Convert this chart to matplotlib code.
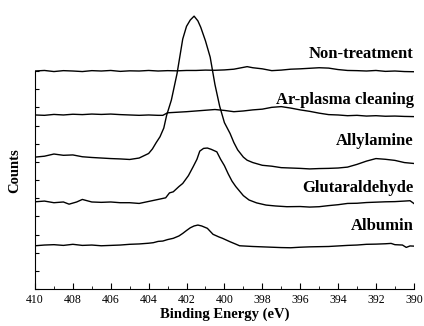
"""
N 1s XPS spectra of the surface after each treatment step,
stacked with a vertical offset.
"""

# Import libraries:
import matplotlib.pyplot as plt

# Sample names (bottom to top) and vertical offsets of each trace:
names = ['Albumin', 'Glutaraldehyde', 'Allylamine', 'Ar-plasma cleaning', 'Non-treatment']
offsets = [2.42, 4.84, 7.26, 9.58, 12.0]
label_y = [3.47, 5.56, 8.15, 10.4, 12.93]

# Albumin:
E_alb = [410, 409.5, 409, 408.5, 408, 407.5, 407, 406.5, 406, 405.5, 405, 404.5, 404,
         403.75, 403.5, 403.25, 403.0, 402.7, 402.4, 402.2, 402.0, 401.8, 401.6, 401.4,
         401.2, 400.9, 400.6, 400.3, 400.1, 399.7, 399.4, 399.2, 398.5, 398, 397.5, 397,
         396.5, 396, 395.5, 395, 394.5, 394, 393.5, 393, 392.5, 392, 391.5, 391.2, 391,
         390.6, 390.4, 390.2, 390]
I_alb = [-0.04, 0.0, 0.02, -0.02, 0.04, -0.02, 0.0, -0.04, -0.02, 0.0, 0.04, 0.06, 0.1,
         0.13, 0.2, 0.22, 0.3, 0.37, 0.5, 0.64, 0.8, 0.95, 1.05, 1.1,
         1.05, 0.92, 0.59, 0.45, 0.37, 0.18, 0.05, -0.04, -0.08, -0.1, -0.12, -0.14,
         -0.15, -0.12, -0.1, -0.09, -0.08, -0.05, -0.02, 0.0, 0.04, 0.05, 0.07, 0.09, 0.02,
         0.0, -0.13, -0.05, -0.06]

# Glutaraldehyde:
E_glu = [410, 409.5, 409, 408.5, 408.2, 407.8, 407.5, 407, 406.5, 406, 405.5, 405, 404.5,
         404, 403.5, 403.1, 402.9, 402.7, 402.4, 402.2, 401.9, 401.65, 401.45, 401.3, 401.1,
         400.9, 400.7, 400.4, 400.2, 400.0, 399.8, 399.6, 399.4, 399.2, 399.0, 398.7, 398.3,
         397.8, 397.3, 396.7, 396, 395.5, 395, 394.5, 394, 393.5, 393, 392.5, 392, 391.5,
         391, 390.5, 390.2, 390]
I_glu = [-0.04, 0.0, -0.09, -0.05, -0.17, -0.05, 0.09, -0.05, -0.07, -0.05, -0.09, -0.09, -0.13,
         -0.02, 0.09, 0.18, 0.45, 0.51, 0.8, 0.97, 1.4, 1.89, 2.3, 2.75, 2.9,
         2.92, 2.85, 2.71, 2.3, 1.95, 1.5, 1.1, 0.8, 0.55, 0.3, 0.06, -0.1,
         -0.22, -0.27, -0.31, -0.3, -0.33, -0.31, -0.25, -0.2, -0.13, -0.12, -0.08, -0.06, -0.04,
         -0.03, 0.0, 0.02, -0.13]

# Allylamine:
E_ally = [410, 409.5, 409, 408.5, 408, 407.5, 407, 406.5, 406, 405.5, 405, 404.5, 404.2,
          404, 403.8, 403.6, 403.4, 403.2, 403.05, 402.8, 402.5, 402.2, 402.0, 401.8, 401.6,
          401.4, 401.25, 401.0, 400.75, 400.5, 400.25, 400.0, 399.7, 399.5, 399.3, 399.0,
          398.8, 398.5, 398, 397.5, 397, 396.5, 396, 395.5, 395, 394.5, 394, 393.5, 393,
          392.5, 392, 391.5, 391, 390.5, 390]
I_ally = [0.0, 0.05, 0.17, 0.1, 0.12, 0.02, -0.02, -0.05, -0.08, -0.1, -0.13, -0.05, 0.1,
          0.2, 0.45, 0.8, 1.12, 1.6, 2.3, 3.14, 4.6, 6.5, 7.2, 7.55, 7.76,
          7.5, 7.15, 6.4, 5.5, 4.0, 2.8, 1.9, 1.3, 0.8, 0.4, 0.0,
          -0.17, -0.3, -0.45, -0.5, -0.58, -0.6, -0.62, -0.65, -0.63, -0.62, -0.6, -0.55, -0.4,
          -0.22, -0.08, -0.12, -0.18, -0.3, -0.35]

# Ar-plasma cleaning:
E_ar = [410, 409.5, 409, 408.5, 408, 407.5, 407, 406.5, 406, 405.5, 405, 404.5, 404,
        403.5, 403.25, 403, 402.5, 402, 401.5, 401, 400.5, 400, 399.5, 399, 398.5, 398,
        397.5, 397, 396.5, 396, 395.5, 395, 394.5, 394, 393.5, 393, 392.5, 392, 391.5,
        391, 390.5, 390]
I_ar = [0.0, -0.02, 0.03, 0.0, 0.04, 0.02, 0.05, 0.03, 0.05, 0.02, 0.0, -0.02, 0.0,
        -0.02, -0.02, 0.12, 0.15, 0.18, 0.22, 0.26, 0.3, 0.25, 0.18, 0.22, 0.28, 0.32,
        0.42, 0.46, 0.38, 0.28, 0.2, 0.1, 0.02, 0.0, -0.04, -0.02, -0.06, -0.04, -0.07,
        -0.06, -0.08, -0.09]

# Non-treatment:
E_non = [410, 409.5, 409, 408.5, 408, 407.5, 407, 406.5, 406, 405.5, 405, 404.5, 404,
         403.5, 403, 402.5, 402, 401.5, 401, 400.5, 400, 399.5, 399, 398.8, 398.5, 398,
         397.5, 397, 396.5, 396, 395.5, 395, 394.5, 394, 393.5, 393, 392.5, 392, 391.5,
         391, 390.5, 390]
I_non = [0.0, 0.03, -0.03, 0.02, 0.0, -0.03, 0.02, 0.0, 0.03, -0.02, 0.01, 0.0, 0.03,
         0.0, 0.02, 0.01, 0.03, 0.03, 0.05, 0.04, 0.06, 0.1, 0.2, 0.24, 0.18, 0.12,
         0.02, 0.05, 0.1, 0.12, 0.15, 0.18, 0.16, 0.08, 0.03, 0.02, 0.0, 0.03, -0.02,
         0.0, -0.03, -0.04]

energies = [E_alb, E_glu, E_ally, E_ar, E_non]
intensities = [I_alb, I_glu, I_ally, I_ar, I_non]

plt.rcParams['font.family'] = 'Liberation Serif'

fig = plt.figure(figsize=(4.24, 3.26), dpi=100)
ax = fig.add_axes([0.0825, 0.1135, 0.8935, 0.847])

# Plot each spectrum shifted by its offset:
for i in range(len(names)):
    y = [v + offsets[i] for v in intensities[i]]
    ax.plot(energies[i], y, 'k-', linewidth=1.0)
    ax.text(390, label_y[i], names[i], ha='right', va='center',
            fontsize=12, fontweight='bold')

ax.set_xlim(410, 390)
ax.set_ylim(0, 15.2)

# Axes: only left and bottom, ticks pointing in
ax.spines['top'].set_visible(False)
ax.spines['right'].set_visible(False)
ax.spines['left'].set_bounds(0, 12)
ax.set_xticks(range(410, 389, -2))
ax.set_xticks(range(410, 389, -1), minor=True)
ax.set_yticks(range(0, 13))
ax.set_yticklabels([])
ax.tick_params(direction='in', labelsize=8.5)
ax.tick_params(axis='x', which='major', length=4)
ax.tick_params(axis='x', which='minor', length=2, direction='in')
ax.tick_params(axis='y', length=3)

ax.set_xlabel('Binding Energy (eV)', fontsize=10.5, fontweight='bold', labelpad=1)
fig.text(15 / 424, 1 - 171 / 326, 'Counts', rotation=90, ha='center', va='center',
         fontsize=10.5, fontweight='bold')

plt.savefig('out.png', dpi=100)
